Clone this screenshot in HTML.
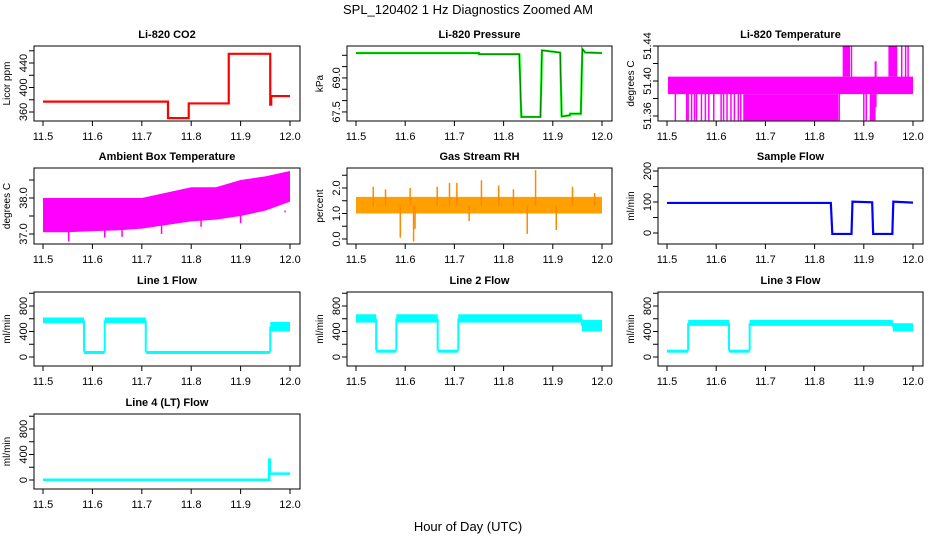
<!DOCTYPE html>
<html><head><meta charset="utf-8"><title>SPL_120402 1 Hz Diagnostics</title>
<style>html,body{margin:0;padding:0;background:#fff}svg{display:block}text{font-family:"Liberation Sans",Arial,sans-serif}</style></head>
<body>
<svg id="chart" width="936" height="540" viewBox="0 0 936 540" xmlns="http://www.w3.org/2000/svg">
<text x="468" y="14" text-anchor="middle" font-size="13">SPL_120402  1 Hz Diagnostics Zoomed AM</text>
<text x="468" y="531" text-anchor="middle" font-size="13">Hour of Day (UTC)</text>
</svg>
<script>
// ---------- data ----------
const xTicks = [11.5, 11.6, 11.7, 11.8, 11.9, 12.0];
const xTickLabels = ["11.5", "11.6", "11.7", "11.8", "11.9", "12.0"];

const co2X = [11.5, 11.753, 11.753, 11.795, 11.795, 11.876, 11.876, 11.96, 11.96, 11.962, 11.962, 12.0];
const co2Y = [377, 377, 350, 350, 374, 374, 455, 455, 372, 372, 386, 386];

const presX = [11.5, 11.75, 11.75, 11.832, 11.836, 11.875, 11.878, 11.915, 11.918, 11.935, 11.935, 11.957, 11.96, 11.966, 12.0];
const presY = [70.1, 70.1, 70.05, 70.05, 67.28, 67.28, 70.22, 70.12, 67.3, 67.35, 67.42, 67.42, 70.28, 70.12, 70.1];

const tempBandX = [11.502, 12.0];
const tempBandLo = [51.385, 51.385];
const tempBandHi = [51.405, 51.405];
const tempFillX0 = [11.655, 11.912, 11.857, 11.95];
const tempFillX1 = [11.848, 11.924, 11.872, 11.968];
const tempFillLo = [51.355, 51.355, 51.405, 51.405];
const tempFillHi = [51.385, 51.385, 51.44, 51.44];
const tempSpikeX = [11.517, 11.54, 11.543, 11.55, 11.556, 11.56, 11.57, 11.578, 11.585, 11.595, 11.61, 11.615, 11.622, 11.63, 11.637, 11.645, 11.65, 11.9, 11.905, 11.85, 11.977, 11.985, 11.99, 11.875];
const tempSpikeY = [51.355, 51.355, 51.355, 51.355, 51.355, 51.355, 51.355, 51.355, 51.355, 51.355, 51.355, 51.355, 51.355, 51.355, 51.355, 51.355, 51.355, 51.355, 51.355, 51.355, 51.44, 51.44, 51.44, 51.44];

const ambX = [11.5, 11.55, 11.6, 11.65, 11.7, 11.75, 11.8, 11.85, 11.9, 11.95, 12.0];
const ambHi = [38.0, 38.0, 38.0, 38.0, 38.0, 38.15, 38.3, 38.3, 38.5, 38.6, 38.75];
const ambLo = [37.05, 37.05, 37.08, 37.1, 37.15, 37.25, 37.35, 37.4, 37.5, 37.65, 37.9];
const ambSpikeX = [11.503, 11.552, 11.625, 11.66, 11.74, 11.82, 11.9, 11.99];
const ambSpikeY = [37.3, 36.8, 36.9, 36.92, 37.0, 37.2, 37.3, 37.65];

const rhBandX = [11.5, 12.0];
const rhBandLo = [1.0, 1.0];
const rhBandHi = [1.65, 1.65];
const rhSpikeX = [11.535, 11.56, 11.59, 11.617, 11.62, 11.61, 11.665, 11.69, 11.705, 11.73, 11.755, 11.79, 11.82, 11.848, 11.865, 11.907, 11.94, 11.985];
const rhSpikeY = [2.05, 1.95, 0.05, -0.1, 0.4, 2.0, 2.05, 2.2, 2.2, 0.7, 2.3, 2.1, 1.95, 0.2, 2.7, 0.35, 2.05, 1.8];

const sampX = [11.5, 11.833, 11.836, 11.875, 11.877, 11.917, 11.919, 11.958, 11.96, 12.0];
const sampY = [97, 97, -3, -3, 101, 99, -3, -3, 101, 98];

const l1X0 = [11.5, 11.583, 11.625, 11.708, 11.96];
const l1X1 = [11.583, 11.625, 11.708, 11.96, 12.0];
const l1Lo = [530, 75, 530, 72, 400];
const l1Hi = [620, 95, 620, 95, 550];

const l2X0 = [11.5, 11.541, 11.582, 11.666, 11.708, 11.959];
const l2X1 = [11.541, 11.582, 11.666, 11.708, 11.959, 12.0];
const l2Lo = [540, 90, 540, 90, 540, 400];
const l2Hi = [670, 115, 670, 115, 670, 580];

const l3X0 = [11.5, 11.543, 11.626, 11.668, 11.959];
const l3X1 = [11.543, 11.626, 11.668, 11.959, 12.0];
const l3Lo = [90, 488, 90, 488, 400];
const l3Hi = [115, 582, 115, 582, 530];

const l4X = [11.5, 11.958, 11.958, 11.959, 11.959, 12.0];
const l4Y = [5, 5, 320, 320, 100, 100];

// ---------- layout ----------
const NS = "http://www.w3.org/2000/svg";
const svg = document.getElementById("chart");
const colL = [34, 347, 658], colR = [300, 612, 923];
const rowT = [46, 168, 292, 414], rowB = [121, 244, 366, 489];
function mk(tag, attrs, parent) {
  const e = document.createElementNS(NS, tag);
  for (const k in attrs) e.setAttribute(k, attrs[k]);
  (parent || svg).appendChild(e);
  return e;
}
function panel(o) {
  const g = mk("g", {});
  
  
  const L = colL[o.col], R = colR[o.col], T = rowT[o.row], B = rowB[o.row];
  const x0 = L + 9, x1 = R - 10;
  const sx = v => x0 + (v - 11.5) / 0.5 * (x1 - x0);
  const sy = v => B - (v - o.ymin) / (o.ymax - o.ymin) * (B - T);
  const t = mk("text", { x: (L + R) / 2, y: T - 8, "text-anchor": "middle", "font-size": 11, "font-weight": "bold" }, g);
  t.textContent = o.title;
  
  
  const xa = mk("g", {}, g);
  
  
  mk("line", { x1: sx(11.5), x2: sx(12), y1: B, y2: B, stroke: "#000" }, xa);
  xTicks.forEach((v, i) => {
    mk("line", { x1: sx(v), x2: sx(v), y1: B, y2: B + 5, stroke: "#000" }, xa);
    const tl = mk("text", { x: sx(v), y: B + 19, "text-anchor": "middle", "font-size": 11 }, xa);
    tl.textContent = xTickLabels[i];
    
    
  });
  const ya = mk("g", {}, g);
  
  
  o.ticks.forEach(v => mk("line", { x1: L - 5, x2: L, y1: sy(v), y2: sy(v), stroke: "#000" }, ya));
  o.labels.forEach(v => {
    const tl = mk("text", { x: 0, y: 0, "text-anchor": "middle", "font-size": 11, transform: `translate(${L - 7},${sy(v)}) rotate(-90)` }, ya);
    tl.textContent = o.fmt(v);
    
    
  });
  const yl = mk("text", { x: 0, y: 0, "text-anchor": "middle", "font-size": 10, transform: `translate(${L - 24},${(T + B) / 2}) rotate(-90)` }, g);
  yl.textContent = o.ylab;
  
  
  const clipId = "c" + o.name;
  const cp = mk("clipPath", { id: clipId }, g);
  mk("rect", { x: L, y: T, width: R - L, height: B - T }, cp);
  const m = mk("g", { "clip-path": `url(#${clipId})` }, g);
  
  
  o.draw(m, sx, sy);
  mk("rect", { x: L, y: T, width: R - L, height: B - T, fill: "none", stroke: "#000" }, g);
}
function line(g, X, Y, sx, sy, col, w) {
  const p = mk("polyline", { points: X.map((x, i) => sx(x) + "," + sy(Y[i])).join(" "), fill: "none", stroke: col, "stroke-width": w }, g);
  
  
}
function segs(g, X0, X1, Lo, Hi, sx, sy, fill) {
  X0.forEach((x, i) => {
    const r = mk("rect", { x: sx(x), y: sy(Hi[i]), width: Math.max(1.5, sx(X1[i]) - sx(x)), height: Math.max(3, sy(Lo[i]) - sy(Hi[i])), fill: fill }, g);
    
    
    if (i < X0.length - 1) {
      const a = (Lo[i] + Hi[i]) / 2, b = (Lo[i + 1] + Hi[i + 1]) / 2;
      const c = mk("line", { x1: sx(X1[i]), x2: sx(X1[i]), y1: sy(a), y2: sy(b), stroke: fill, "stroke-width": 2 }, g);
      
      
    }
  });
}
function band(g, X, Lo, Hi, sx, sy, fill) {
  const pts = X.map((x, i) => sx(x) + "," + sy(Hi[i])).concat(X.slice().reverse().map((x, j) => sx(x) + "," + sy(Lo[X.length - 1 - j])));
  const p = mk("polygon", { points: pts.join(" "), fill: fill }, g);
  
  
}
function spikes(g, X, Y, base, sx, sy, col, w) {
  X.forEach((x, i) => {
    const l = mk("line", { x1: sx(x), x2: sx(x), y1: sy(base), y2: sy(Y[i]), stroke: col, "stroke-width": w }, g);
    
    
  });
}
const f0 = v => String(v), f1 = v => v.toFixed(1), f2 = v => v.toFixed(2);

panel({ name: "co2-panel", title: "Li-820 CO2", col: 0, row: 0, ymin: 345.3, ymax: 467.8, ticks: [360, 380, 400, 420, 440, 460], labels: [360, 400, 440], fmt: f0, ylab: "Licor ppm",
  draw: (g, sx, sy) => line(g, co2X, co2Y, sx, sy, "#ff0000", 2.2) });
panel({ name: "pressure-panel", title: "Li-820 Pressure", col: 1, row: 0, ymin: 67.10, ymax: 70.41, ticks: [67.5, 68, 68.5, 69, 69.5, 70], labels: [67.5, 69.0], fmt: f1, ylab: "kPa",
  draw: (g, sx, sy) => { line(g, presX, presY, sx, sy, "#00ee00", 2.2); line(g, presX, presY, sx, sy, "#004400", 0.6); } });
panel({ name: "li820-temp-panel", title: "Li-820 Temperature", col: 2, row: 0, ymin: 51.3543, ymax: 51.44, ticks: [51.36, 51.38, 51.40, 51.42, 51.44], labels: [51.36, 51.40, 51.44], fmt: f2, ylab: "degrees C",
  draw: (g, sx, sy) => {
    band(g, tempBandX, tempBandLo, tempBandHi, sx, sy, "#ff00ff");
    segs(g, tempFillX0, tempFillX1, tempFillLo, tempFillHi, sx, sy, "#ff00ff");
    spikes(g, tempSpikeX, tempSpikeY, 51.395, sx, sy, "#ff00ff", 1.5);
  } });
panel({ name: "ambient-temp-panel", title: "Ambient Box Temperature", col: 0, row: 1, ymin: 36.722, ymax: 38.833, ticks: [37, 37.5, 38, 38.5], labels: [37.0, 38.0], fmt: f1, ylab: "degrees C",
  draw: (g, sx, sy) => { band(g, ambX, ambLo, ambHi, sx, sy, "#ff00ff"); spikes(g, ambSpikeX, ambSpikeY, 37.6, sx, sy, "#ff00ff", 1.5); } });
panel({ name: "rh-panel", title: "Gas Stream RH", col: 1, row: 1, ymin: -0.196, ymax: 2.784, ticks: [0, 0.5, 1, 1.5, 2, 2.5], labels: [0.0, 1.0, 2.0], fmt: f1, ylab: "percent",
  draw: (g, sx, sy) => { band(g, rhBandX, rhBandLo, rhBandHi, sx, sy, "#ffa000"); spikes(g, rhSpikeX, rhSpikeY, 1.3, sx, sy, "#ff8800", 1.5); } });
panel({ name: "sample-flow-panel", title: "Sample Flow", col: 2, row: 1, ymin: -35.5, ymax: 209.7, ticks: [0, 50, 100, 150, 200], labels: [0, 100, 200], fmt: f0, ylab: "ml/min",
  draw: (g, sx, sy) => line(g, sampX, sampY, sx, sy, "#0000ff", 2.2) });
const flowTicks = [0, 200, 400, 600, 800, 1000], flowLabels = [0, 400, 800];
panel({ name: "line1-flow-panel", title: "Line 1 Flow", col: 0, row: 2, ymin: -141, ymax: 1019.6, ticks: flowTicks, labels: flowLabels, fmt: f0, ylab: "ml/min",
  draw: (g, sx, sy) => { segs(g, l1X0, l1X1, l1Lo, l1Hi, sx, sy, "#00ffff"); } });
panel({ name: "line2-flow-panel", title: "Line 2 Flow", col: 1, row: 2, ymin: -141, ymax: 1019.6, ticks: flowTicks, labels: flowLabels, fmt: f0, ylab: "ml/min",
  draw: (g, sx, sy) => { segs(g, l2X0, l2X1, l2Lo, l2Hi, sx, sy, "#00ffff"); } });
panel({ name: "line3-flow-panel", title: "Line 3 Flow", col: 2, row: 2, ymin: -141, ymax: 1019.6, ticks: flowTicks, labels: flowLabels, fmt: f0, ylab: "ml/min",
  draw: (g, sx, sy) => { segs(g, l3X0, l3X1, l3Lo, l3Hi, sx, sy, "#00ffff"); } });
panel({ name: "line4-flow-panel", title: "Line 4 (LT) Flow", col: 0, row: 3, ymin: -141, ymax: 1035, ticks: flowTicks, labels: flowLabels, fmt: f0, ylab: "ml/min",
  draw: (g, sx, sy) => line(g, l4X, l4Y, sx, sy, "#00ffff", 2.5) });
</script>
</body></html>
